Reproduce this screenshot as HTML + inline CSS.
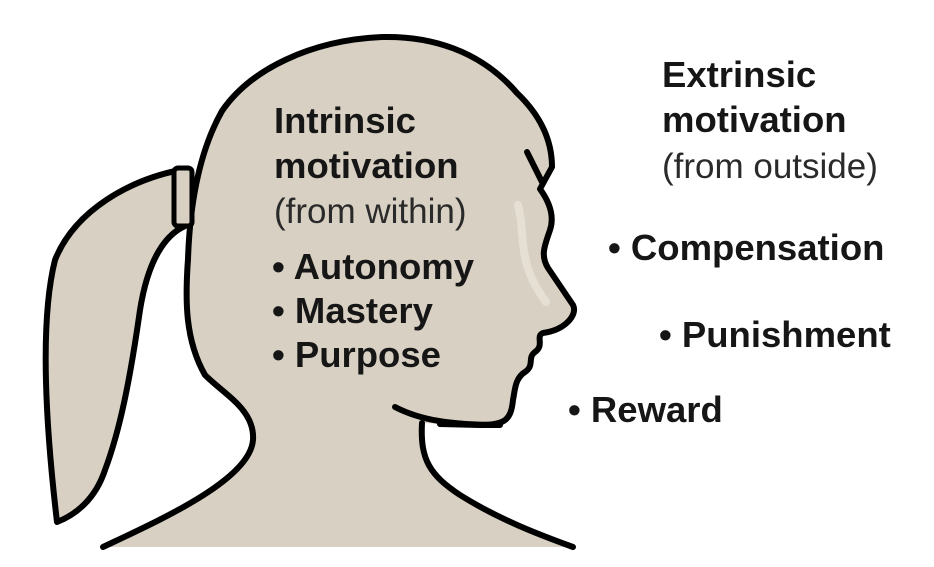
<!DOCTYPE html>
<html><head><meta charset="utf-8"><style>
html,body{margin:0;padding:0;background:#fff;width:934px;height:567px;overflow:hidden}
svg{display:block}
text{font-family:"Liberation Sans",Arial,sans-serif;fill:#161616}
.b{font-weight:bold;font-size:36.5px}
.r{font-size:35px;fill:#2a2a2a}
</style></head><body>
<svg width="934" height="567" viewBox="0 0 934 567" xmlns="http://www.w3.org/2000/svg">
<path d="M180 170 C130 180,75 210,55 260 C40 320,45 420,57 522 C75 515,95 500,105 470 C120 430,130 380,140 310 C148 260,165 235,185 226 Z" fill="#d8d0c2" stroke="#000" stroke-width="6" stroke-linejoin="round"/>
<path d="M103 547 C160 520,250 480,253 440 C255 410,225 395,205 375 C185 340,185 300,188 259 C190 200,200 150,222 111 C250 70,310 40,383 37 C430 36,480 50,517 93 C540 115,552 140,552 167 L540 189 C548 200,555 215,550 230 C545 245,540 255,548 268 L573 305 C578 315,565 330,543 333 C535 336,545 345,535 352 C527 358,535 365,525 372 C515 378,515 390,513 400 C511 420,505 425,480 425 L422 423 C420 460,430 475,460 495 C500 520,540 535,573 547 Z" fill="#d8d0c2"/>
<path d="M103 547 C160 520,250 480,253 440 C255 410,225 395,205 375 C185 340,185 300,188 259 C190 200,200 150,222 111 C250 70,310 40,383 37 C430 36,480 50,517 93 C540 115,552 140,552 167 L540 189 C548 200,555 215,550 230 C545 245,540 255,548 268 L573 305 C578 315,565 330,543 333 C535 336,545 345,535 352 C527 358,535 365,525 372 C515 378,515 390,513 400 C511 420,505 425,480 425 L440 424" fill="none" stroke="#000" stroke-width="6" stroke-linejoin="round" stroke-linecap="round"/>
<path d="M395 407 C420 420,450 425,500 425" fill="none" stroke="#000" stroke-width="6" stroke-linecap="round"/>
<path d="M422 423 C420 460,430 475,460 495 C500 520,540 535,573 547" fill="none" stroke="#000" stroke-width="6" stroke-linecap="round"/>
<path d="M527 152 L542 182" fill="none" stroke="#000" stroke-width="6" stroke-linecap="round"/>
<rect x="174" y="168" width="18" height="58" rx="4" fill="#d8d0c2" stroke="#000" stroke-width="5"/>
<path d="M518 205 C526 235,516 262,546 302" fill="none" stroke="#ece6da" stroke-width="8" stroke-linecap="round" opacity="0.7"/>
<text class="b" x="274" y="133">Intrinsic</text>
<text class="b" x="274" y="178">motivation</text>
<text class="r" x="274" y="223">(from within)</text>
<text class="b" x="272" y="279">• Autonomy</text>
<text class="b" x="272" y="323">• Mastery</text>
<text class="b" x="272" y="367">• Purpose</text>
<text class="b" x="662" y="87">Extrinsic</text>
<text class="b" x="662" y="132">motivation</text>
<text class="r" x="662" y="178">(from outside)</text>
<text class="b" x="608" y="260">• Compensation</text>
<text class="b" x="659" y="347">• Punishment</text>
<text class="b" x="568" y="422">• Reward</text>
</svg>
</body></html>
